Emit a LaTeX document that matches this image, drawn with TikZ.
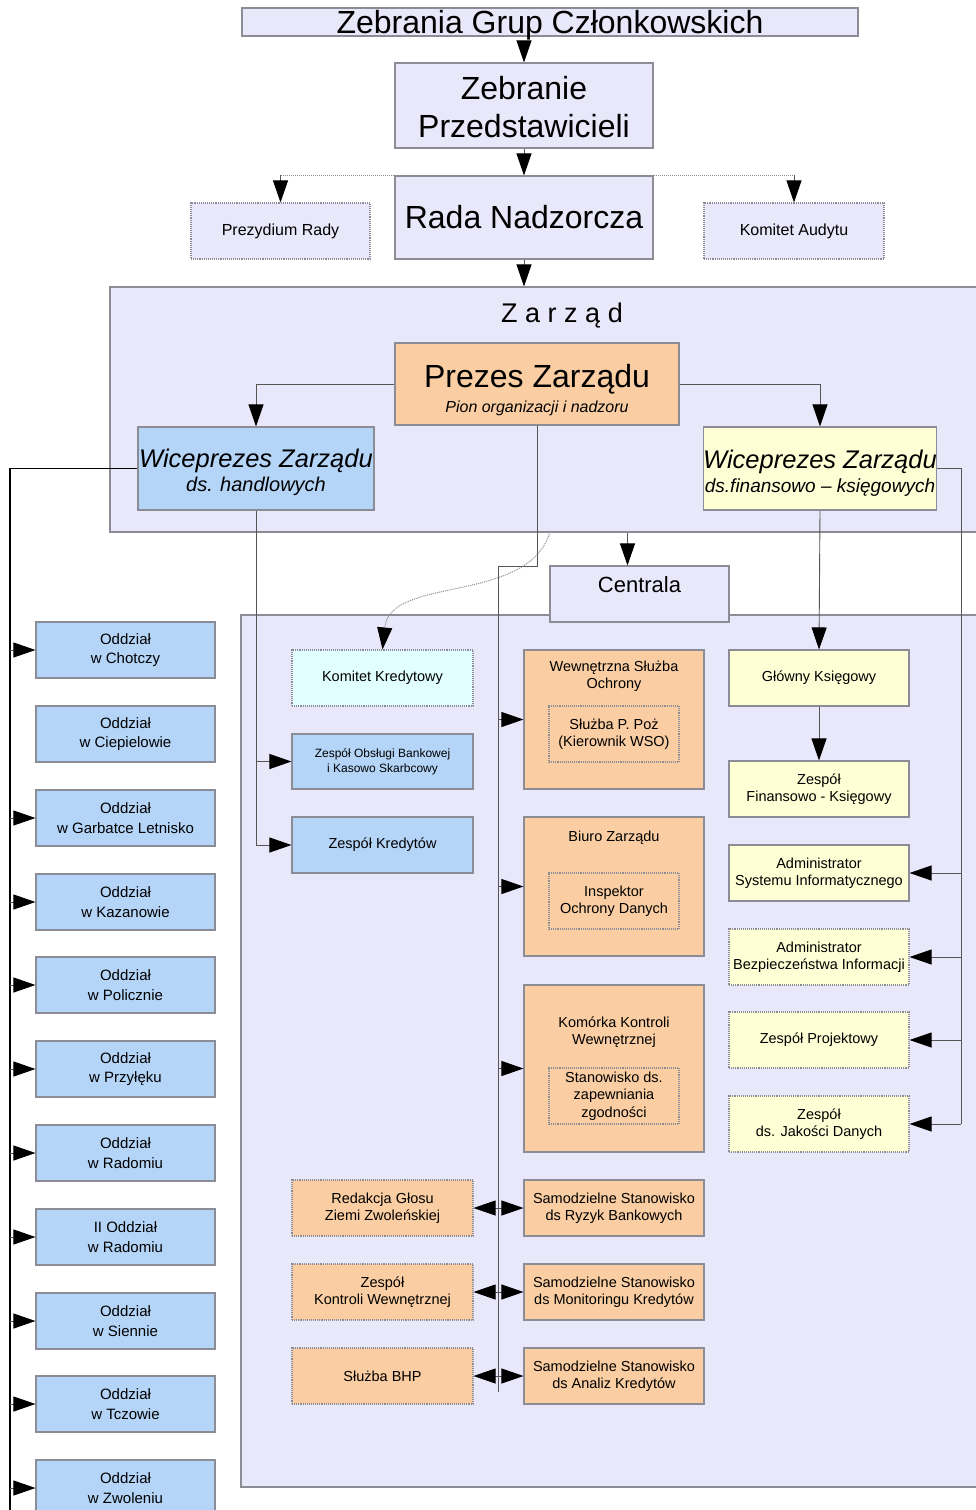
\documentclass[tikz,border=0pt]{standalone}
\usepackage{fontspec}
\setmainfont{Liberation Sans}
\usetikzlibrary{arrows.meta}
\definecolor{lav}{RGB}{232,232,250}
\definecolor{bluebox}{RGB}{180,213,248}
\definecolor{orangebox}{RGB}{250,206,162}
\definecolor{yellowbox}{RGB}{255,255,214}
\definecolor{cyanbox}{RGB}{226,255,255}
\definecolor{boxline}{RGB}{140,140,150}
\definecolor{connc}{RGB}{85,85,85}
\newcommand\fsz[2]{\fontsize{#1}{#2}\selectfont}
\begin{document}
\begin{tikzpicture}[x=1pt,y=-1pt,
  box/.style={draw=boxline, line width=1.1pt, inner sep=0pt, align=center, text=black, font=\fsz{14.5}{17.5}},
  dotbox/.style={box, densely dotted},
  lavbox/.style={box, fill=lav},
  bluecell/.style={box, fill=bluebox, minimum width=179pt, minimum height=56pt},
  oddz/.style={bluecell, font=\fsz{15}{19.5}},
  orangecell/.style={box, fill=orangebox, minimum width=180pt},
  yellowcell/.style={box, fill=yellowbox, minimum width=180pt, minimum height=56pt},
  innerbox/.style={box, densely dotted, minimum width=130pt, minimum height=56pt},
  plain/.style={inner sep=0pt, align=center, text=black, font=\fsz{14.5}{17.5}},
  conn/.style={draw=connc, line width=0.9pt},
  dotline/.style={draw=boxline, line width=1pt, densely dotted},
  arr/.style={conn, -{Triangle[length=22pt,width=15pt,color=black]}},
  dotarr/.style={dotline, -{Triangle[length=22pt,width=15pt,color=black]}}
]
\useasboundingbox (0,0) rectangle (975,1510);

% top level
\node[lavbox, minimum width=616pt, minimum height=28pt, text height=25pt, text depth=3pt, font=\fsz{32}{38}] (zgc) at (550,22) {Zebrania Grup Członkowskich};
\node[lavbox, minimum width=258pt, minimum height=85pt, font=\fsz{32}{38}] (zp) at (524,105.5) {\rule{0pt}{27pt}Zebranie\\Przedstawicieli};
\node[lavbox, minimum width=258pt, minimum height=83pt, font=\fsz{32}{38}] (rada) at (524,217.5) {Rada Nadzorcza};
\node[lavbox, dotbox, minimum width=179pt, minimum height=56pt, font=\fsz{16}{19}] (prd) at (280.5,231) {Prezydium Rady};
\node[lavbox, dotbox, minimum width=180pt, minimum height=56pt, font=\fsz{16}{19}] (kau) at (794,231) {Komitet Audytu};

% regions
\node[lavbox, minimum width=870pt, minimum height=245pt] (zarzad) at (545,409.5) {};
\node[plain, font=\fsz{27}{32}] (zt) at (562,316) {Z a r z ą d};
\node[lavbox, minimum width=739pt, minimum height=872pt] (creg) at (610.5,1051) {};
\node[lavbox, minimum width=179pt, minimum height=56pt, text height=26pt, text depth=30pt, font=\fsz{22}{26}] (centrala) at (639.5,594) {Centrala};

% board
\node[box, fill=orangebox, minimum width=284pt, minimum height=82pt, font=\fsz{32}{34}] (prezes) at (537,384) {\rule{0pt}{36pt}Prezes Zarządu\\[-9pt]{\fsz{16}{18}\itshape Pion organizacji i nadzoru}};
\node[box, fill=bluebox, minimum width=236pt, minimum height=83pt, font=\fsz{25.5}{28}\itshape] (wh) at (256,468.5) {\rule{0pt}{27pt}Wiceprezes Zarządu\\[-4pt]{\fsz{20}{22}\itshape ds. handlowych}};
\node[box, fill=yellowbox, minimum width=232pt, minimum height=83pt, font=\fsz{25.5}{28}\itshape] (wf) at (820,468.5) {\rule{0pt}{27pt}Wiceprezes Zarządu\\[-4pt]{\fsz{19}{22}\itshape ds.finansowo – księgowych}};

% branches
\node[oddz] (o1) at (125.5,650) {Oddział\\w Chotczy};
\node[oddz] (o2) at (125.5,734) {Oddział\\w Ciepielowie};
\node[oddz] (o3) at (125.5,818) {Oddział\\w Garbatce Letnisko};
\node[oddz] (o4) at (125.5,902) {Oddział\\w Kazanowie};
\node[oddz] (o5) at (125.5,985) {Oddział\\w Policznie};
\node[oddz] (o6) at (125.5,1069) {Oddział\\w Przyłęku};
\node[oddz] (o7) at (125.5,1153) {Oddział\\w Radomiu};
\node[oddz] (o8) at (125.5,1237) {II Oddział\\w Radomiu};
\node[oddz] (o9) at (125.5,1321) {Oddział\\w Siennie};
\node[oddz] (o10) at (125.5,1404) {Oddział\\w Tczowie};
\node[oddz] (o11) at (125.5,1488) {Oddział\\w Zwoleniu};

% column 2
\node[box, dotbox, fill=cyanbox, minimum width=181pt, minimum height=56pt] (kk) at (382.5,678) {Komitet Kredytowy};
\node[box, fill=bluebox, minimum width=181pt, minimum height=55pt, font=\fsz{12}{15}] (zob) at (382.5,761.5) {Zespół Obsługi Bankowej\\i Kasowo Skarbcowy};
\node[box, fill=bluebox, minimum width=181pt, minimum height=56pt] (zkr) at (382.5,845) {Zespół Kredytów};
\node[box, dotbox, fill=orangebox, minimum width=181pt, minimum height=56pt] (red) at (382.5,1208) {Redakcja Głosu\\Ziemi Zwoleńskiej};
\node[box, dotbox, fill=orangebox, minimum width=181pt, minimum height=56pt] (zkw) at (382.5,1292) {Zespół\\Kontroli Wewnętrznej};
\node[box, dotbox, fill=orangebox, minimum width=181pt, minimum height=56pt] (bhp) at (382.5,1376) {Służba BHP};

% column 3
\node[orangecell, minimum height=139pt] (wso) at (614,719.5) {};
\node[plain] (wsot) at (614,676) {Wewnętrzna Służba\\Ochrony};
\node[innerbox] (wsoi) at (614,734) {Służba P. Poż\\(Kierownik WSO)};
\node[orangecell, minimum height=139pt] (biuro) at (614,886.5) {};
\node[plain] (biurot) at (614,838) {Biuro Zarządu};
\node[innerbox] (biuroi) at (614,901) {Inspektor\\Ochrony Danych};
\node[orangecell, minimum height=167pt] (kkw) at (614,1068.5) {};
\node[plain] (kkwt) at (614,1032) {Komórka Kontroli\\Wewnętrznej};
\node[innerbox] (kkwi) at (614,1096) {Stanowisko ds.\\zapewniania\\zgodności};
\node[orangecell, minimum height=56pt] (ssrb) at (614,1208) {Samodzielne Stanowisko\\ds Ryzyk Bankowych};
\node[orangecell, minimum height=56pt] (ssmk) at (614,1292) {Samodzielne Stanowisko\\ds Monitoringu Kredytów};
\node[orangecell, minimum height=56pt] (ssak) at (614,1376) {Samodzielne Stanowisko\\ds Analiz Kredytów};

% column 4
\node[yellowcell] (gk) at (819,678) {Główny Księgowy};
\node[yellowcell] (zfk) at (819,789) {Zespół\\Finansowo - Księgowy};
\node[yellowcell] (asi) at (819,873) {Administrator\\Systemu Informatycznego};
\node[yellowcell, densely dotted] (abi) at (819,957) {Administrator\\Bezpieczeństwa Informacji};
\node[yellowcell, densely dotted] (zpr) at (819,1040) {Zespół Projektowy};
\node[yellowcell, densely dotted] (zjd) at (819,1124) {Zespół\\ds. Jakości Danych};

% ---------- connectors ----------
\draw[arr] ([yshift=-6pt]zgc.south -| zp.north) -- (zp.north);
\draw[arr] (zp.south) -- (rada.north);
\coordinate (prdtop) at (prd.north |- rada.north);
\coordinate (kautop) at (kau.north |- rada.north);
\draw[dotline] (prdtop) -- (rada.north west);
\draw[dotline] (rada.north east) -- (kautop);
\draw[arr] (prdtop) -- (prd.north);
\draw[arr] (kautop) -- (kau.north);
\draw[arr] (rada.south) -- (rada.south |- zarzad.north);

\draw[arr] (prezes.west) -| (wh.north);
\draw[arr] (prezes.east) -| (wf.north);

% left bus to branches
\coordinate (lbus) at (10,1510);
\draw[draw=black, line width=1.4pt] (wh.west) -| (lbus);
\foreach \o in {o1,o3,o4,o5,o6,o7,o8,o9,o10,o11}
  \draw[arr] (\o.west -| lbus) -- (\o.west);

% handlowy down
\coordinate (whb) at (wh.south |- zkr.west);
\draw[conn] (wh.south) -- (whb);
\draw[arr] (wh.south |- zob.west) -- (zob.west);
\draw[arr] (whb) -- (zkr.west);

% prezes bus
\coordinate (pk) at (498,566);
\coordinate (pbus) at (498,1392);
\draw[conn] (prezes.south) |- (pk) -- (pbus);
\foreach \t in {wso,biuro,kkw,ssrb,ssmk,ssak}
  \draw[arr] (\t.west -| pk) -- (\t.west);
\foreach \t in {red,zkw,bhp}
  \draw[arr] (\t.east -| pk) -- (\t.east);

% centrala
\draw[arr] ([xshift=-12pt]centrala.north |- zarzad.south) -- ([xshift=-12pt]centrala.north);

% dotted curve to komitet kredytowy
\coordinate (cs) at (550,532);
\draw[dotarr] (cs) .. controls (528,605) and (390,575) .. (kk.north);

% financial
\draw[arr] (wf.south) -- (gk.north);
\draw[arr] (gk.south) -- (zfk.north);
\coordinate (rbus) at (961,1124);
\draw[conn] (wf.east) -| (rbus);
\foreach \t in {asi,abi,zpr,zjd}
  \draw[arr] (\t.east -| rbus) -- (\t.east);
\end{tikzpicture}
\end{document}
